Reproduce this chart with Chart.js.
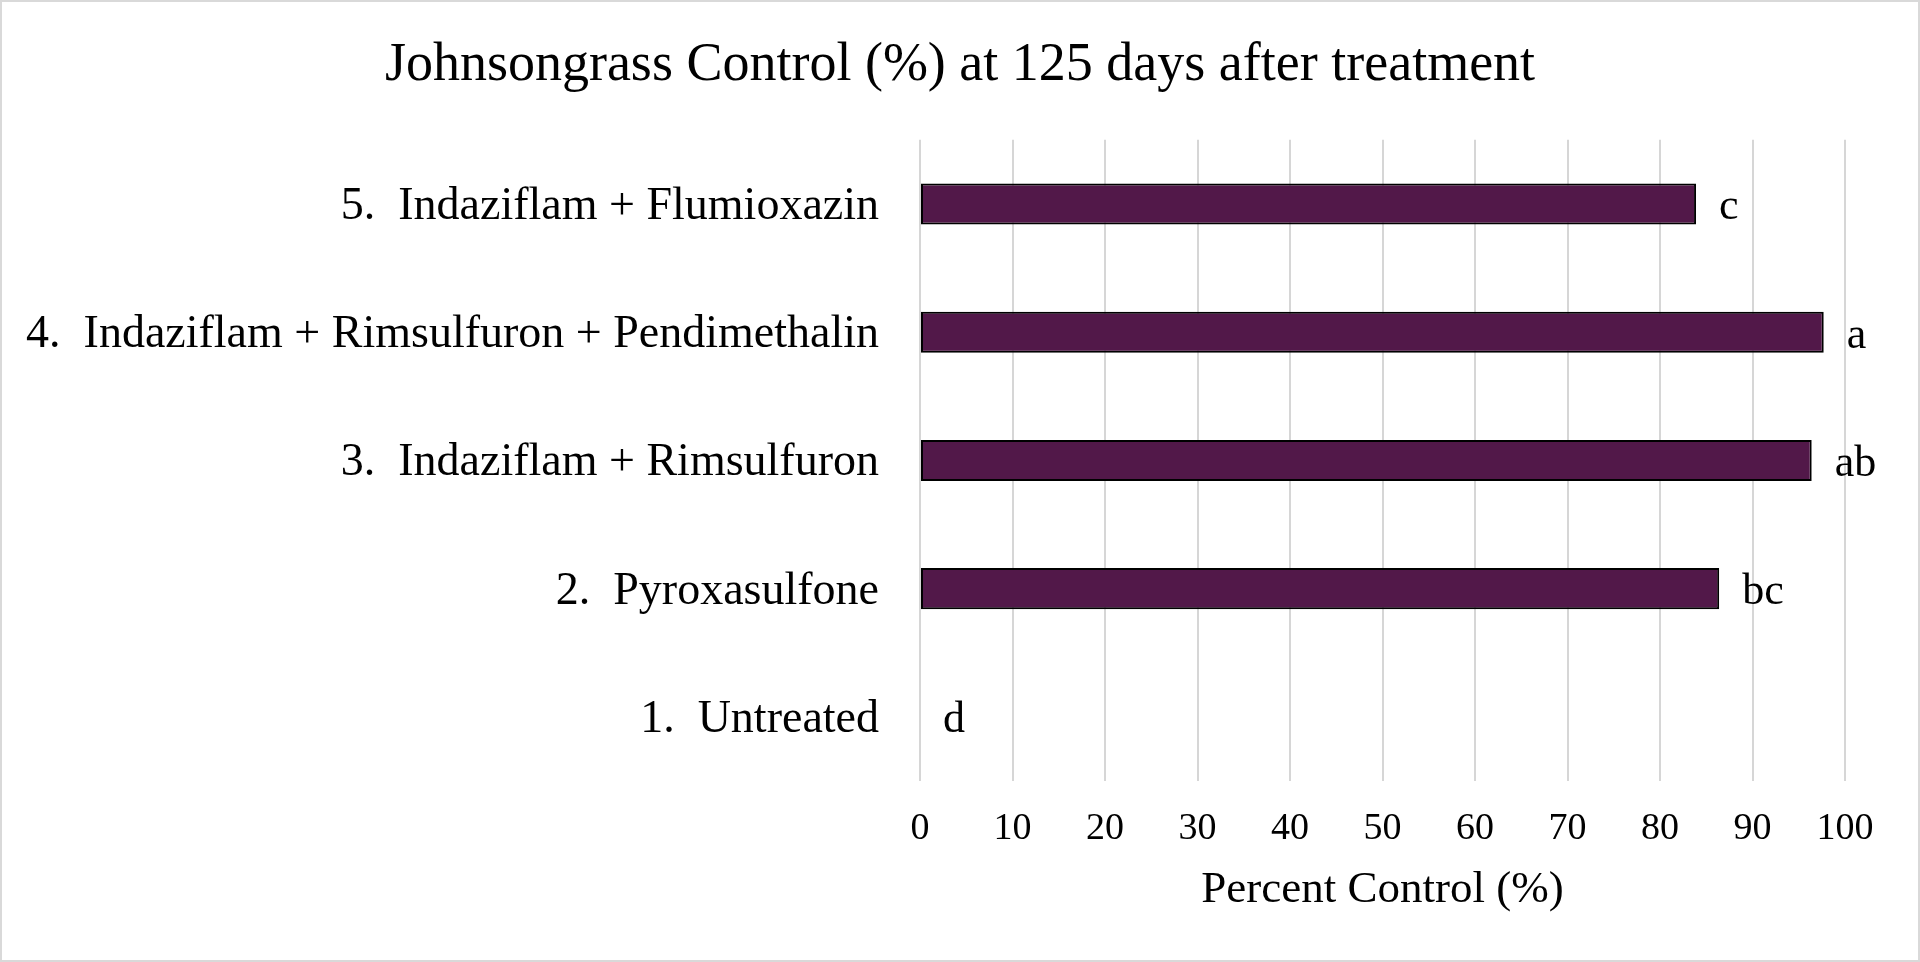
<!DOCTYPE html>
<html>
<head>
<meta charset="utf-8">
<script src="https://cdn.jsdelivr.net/npm/chart.js@4.4.1/dist/chart.umd.min.js"></script>
<style>
html,body{margin:0;padding:0;background:#fff;overflow:hidden;}
canvas{display:block;}
</style>
</head>
<body>
<canvas id="c" width="1920" height="962"></canvas>
<script>
const categories = [
  "5.  Indaziflam + Flumioxazin",
  "4.  Indaziflam + Rimsulfuron + Pendimethalin",
  "3.  Indaziflam + Rimsulfuron",
  "2.  Pyroxasulfone",
  "1.  Untreated"
];
const controlValues = [83.9, 97.7, 96.4, 86.4, 0];
const letterLabels = ["c", "a", "ab", "bc", "d"];
const xTicks = [0, 10, 20, 30, 40, 50, 60, 70, 80, 90, 100];

const FONT = '"Liberation Serif", "Times New Roman", serif';

const frame = {
  id: 'frame',
  beforeDraw(chart) {
    const ctx = chart.ctx;
    ctx.save();
    ctx.fillStyle = '#ffffff';
    ctx.fillRect(0, 0, chart.width, chart.height);
    ctx.restore();
  },
  afterDraw(chart) {
    const ctx = chart.ctx;
    ctx.save();
    ctx.strokeStyle = '#d9d9d9';
    ctx.lineWidth = 2;
    ctx.strokeRect(1, 1, chart.width - 2, chart.height - 2);
    ctx.restore();
  }
};

const letters = {
  id: 'letters',
  afterDatasetsDraw(chart) {
    const ctx = chart.ctx;
    const meta = chart.getDatasetMeta(0);
    ctx.save();
    ctx.font = '44px ' + FONT;
    ctx.fillStyle = '#000';
    ctx.textAlign = 'left';
    ctx.textBaseline = 'middle';
    meta.data.forEach((bar, i) => {
      ctx.fillText(letterLabels[i], bar.x + 23, bar.y + 4);
    });
    ctx.restore();
  }
};

new Chart(document.getElementById('c'), {
  type: 'bar',
  data: {
    labels: categories,
    datasets: [{
      data: controlValues,
      backgroundColor: '#521849',
      borderColor: '#000000',
      borderWidth: 2,
      borderSkipped: false,
      barPercentage: 0.32,
      categoryPercentage: 1
    }]
  },
  options: {
    indexAxis: 'y',
    responsive: false,
    animation: false,
    devicePixelRatio: 1,
    layout: { padding: 0 },
    plugins: {
      legend: { display: false },
      tooltip: { enabled: false },
      title: {
        display: true,
        text: 'Johnsongrass Control (%) at 125 days after treatment',
        color: '#000',
        font: { family: FONT, size: 54, weight: 'normal' },
        padding: { top: 33, bottom: 42 }
      }
    },
    scales: {
      x: {
        min: 0,
        max: 100,
        afterBuildTicks(scale) { scale.ticks = xTicks.map(v => ({ value: v })); },
        afterFit(scale) { scale.height = 181; },
        grid: { color: '#d6d6d6', lineWidth: 2, drawTicks: false },
        border: { display: false },
        ticks: {
          color: '#000',
          font: { family: FONT, size: 38 },
          padding: 25,
          maxRotation: 0
        },
        title: {
          display: true,
          text: 'Percent Control (%)',
          color: '#000',
          font: { family: FONT, size: 45 },
          padding: { top: 0, bottom: 45 }
        }
      },
      y: {
        afterFit(scale) { scale.width = 920; },
        grid: { display: false, drawTicks: false },
        border: { display: false },
        ticks: {
          color: '#000',
          font: { family: FONT, size: 46 },
          padding: 41,
          labelOffset: 3
        }
      },
      yRight: {
        type: 'category',
        position: 'right',
        display: true,
        afterFit(scale) { scale.width = 75; },
        grid: { display: false, drawTicks: false },
        border: { display: false },
        ticks: { display: false }
      }
    }
  },
  plugins: [frame, letters]
});
</script>
</body>
</html>
